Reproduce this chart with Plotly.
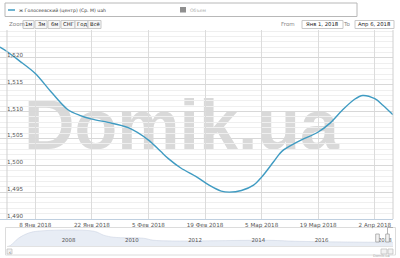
import plotly.graph_objects as go

# ---- data ----
dates = ["2017-12-30 06:00", "2018-01-01", "2018-01-04", "2018-01-08", "2018-01-12", "2018-01-16",
         "2018-01-19", "2018-01-22", "2018-01-26", "2018-01-31", "2018-02-05", "2018-02-08",
         "2018-02-10", "2018-02-13", "2018-02-17", "2018-02-20", "2018-02-23",
         "2018-02-25", "2018-02-28", "2018-03-03", "2018-03-05", "2018-03-08",
         "2018-03-10", "2018-03-14", "2018-03-19", "2018-03-22", "2018-03-25",
         "2018-03-28", "2018-03-30", "2018-04-02", "2018-04-04", "2018-04-06 12:00"]
prices = [1522.0, 1521.2, 1519.5, 1517.1, 1513.6, 1510.4,
          1509.3, 1508.6, 1508.0, 1507.0, 1504.7, 1502.6,
          1501.2, 1499.5, 1497.8, 1496.3, 1495.2,
          1495.0, 1495.3, 1496.3, 1497.8, 1500.7,
          1502.6, 1504.4, 1506.2, 1507.9, 1510.3,
          1512.3, 1513.0, 1512.4, 1511.2, 1509.4]

nav_dates = ["2006-01-20", "2006-03-01", "2006-06-01", "2006-09-25", "2007-01-20", "2008-10-20",
             "2009-02-10", "2009-06-05", "2010-05-20", "2010-09-15", "2014-05-01",
             "2015-04-20", "2018-04-06"]
nav_values = [0, 120, 960, 1560, 1800, 1780, 1320, 1080, 960, 720, 720, 600, 480]

x_tick_vals = ["2018-01-08", "2018-01-22", "2018-02-05", "2018-02-19", "2018-03-05",
               "2018-03-19", "2018-04-02"]
x_tick_text = ["8 Янв 2018", "22 Янв 2018", "5 Фев 2018", "19 Фев 2018", "5 Мар 2018",
               "19 Мар 2018", "2 Апр 2018"]
y_tick_vals = [1490, 1495, 1500, 1505, 1510, 1515, 1520]
y_tick_text = ["1,490", "1,495", "1,500", "1,505", "1,510", "1,515", "1,520"]
nav_tick_vals = ["2008-01-01", "2010-01-01", "2012-01-01", "2014-01-01", "2016-01-01", "2018-01-01"]
nav_tick_text = ["2008", "2010", "2012", "2014", "2016", "2018"]

series_name = "ж Голосеевский (центр) (Ср. М) uah"
volume_name = "Объем"
zoom_buttons = ["1м", "3м", "6м", "СНГ", "Год", "Всё"]
from_text = "Янв 1, 2018"
to_text = "Апр 6, 2018"

# ---- layout helpers (pixel -> paper) ----
W, H = 400, 258
ML, MR, MT, MB = 0, 7, 30, 3
PW = W - ML - MR
PH = H - MT - MB


def px(x):
    return (x - ML) / PW


def py(y):
    return (H - MB - y) / PH


FONT = "DejaVu Sans"
LINE = "#3f9bc2"

fig = go.Figure()
fig.add_trace(go.Scatter(
    x=dates, y=prices, mode="lines",
    line=dict(color=LINE, width=1.4, shape="spline", smoothing=0.9),
    hoverinfo="skip", showlegend=False, xaxis="x", yaxis="y"))

fig.add_trace(go.Scatter(
    x=nav_dates, y=nav_values, mode="lines", fill="tozeroy",
    fillcolor="rgba(205,215,232,0.45)",
    line=dict(color="rgba(190,200,220,0.7)", width=0.6, shape="spline"),
    hoverinfo="skip", showlegend=False, xaxis="x2", yaxis="y2"))

shapes = []
annotations = []

# watermark
shapes.append(dict(type="rect", xref="paper", yref="paper",
                   x0=px(0), x1=px(363), y0=py(155), y1=py(80),
                   line=dict(width=0), fillcolor="rgba(0,0,0,0)", layer="below",
                   label=dict(text="<b>Domik.ua</b>",
                              font=dict(family="Liberation Sans", size=70, color="#d9d9d9"),
                              textposition="middle center")))

# left line at Jan 1 and right border
shapes.append(dict(type="line", xref="x", yref="paper", x0="2018-01-01", x1="2018-01-01",
                   y0=py(219), y1=1, line=dict(color="#d0d0d0", width=1)))
shapes.append(dict(type="line", xref="paper", yref="paper", x0=1, x1=1,
                   y0=py(219), y1=1, line=dict(color="#d0d0d0", width=1)))

# legend box
shapes.append(dict(type="rect", xref="paper", yref="paper", x0=px(5), x1=px(357),
                   y0=py(16.5), y1=py(3), line=dict(color="#b8b8b8", width=1),
                   fillcolor="white"))
shapes.append(dict(type="line", xref="paper", yref="paper", x0=px(8), x1=px(15),
                   y0=py(10), y1=py(10), line=dict(color=LINE, width=1.5)))
shapes.append(dict(type="rect", xref="paper", yref="paper", x0=px(180), x1=px(186),
                   y0=py(12.5), y1=py(7), line=dict(width=0), fillcolor="#8f8f8f"))
annotations.append(dict(text=series_name, xref="paper", yref="paper", x=px(17), y=py(10),
                        xanchor="left", yanchor="middle", showarrow=False,
                        font=dict(family=FONT, size=4.6, color="#333")))
annotations.append(dict(text=volume_name, xref="paper", yref="paper", x=px(188), y=py(10),
                        xanchor="left", yanchor="middle", showarrow=False,
                        font=dict(family=FONT, size=4.6, color="#aaa")))

# zoom row
annotations.append(dict(text="Zoom", xref="paper", yref="paper", x=px(7), y=py(24.5),
                        xanchor="left", yanchor="middle", showarrow=False,
                        font=dict(family=FONT, size=5.5, color="#888")))
btn_edges = [(23, 34), (35, 47), (48, 60), (61, 75), (75, 88), (88, 101)]
for (a, b), t in zip(btn_edges, zoom_buttons):
    shapes.append(dict(type="rect", xref="paper", yref="paper", x0=px(a), x1=px(b),
                       y0=py(28.5), y1=py(20.5), line=dict(color="#c8c8c8", width=1),
                       fillcolor="#f7f7f7"))
    annotations.append(dict(text=t, xref="paper", yref="paper", x=px((a + b) / 2), y=py(24.5),
                            xanchor="center", yanchor="middle", showarrow=False,
                            font=dict(family=FONT, size=5.3, color="#222")))
annotations.append(dict(text="From", xref="paper", yref="paper", x=px(297), y=py(24.5),
                        xanchor="right", yanchor="middle", showarrow=False,
                        font=dict(family=FONT, size=5.5, color="#888")))
annotations.append(dict(text="To", xref="paper", yref="paper", x=px(352), y=py(24.5),
                        xanchor="right", yanchor="middle", showarrow=False,
                        font=dict(family=FONT, size=5.5, color="#888")))
for (a, b), t in [((302, 343), from_text), ((355, 394), to_text)]:
    shapes.append(dict(type="rect", xref="paper", yref="paper", x0=px(a), x1=px(b),
                       y0=py(28.5), y1=py(20.5), line=dict(color="#c8c8c8", width=1),
                       fillcolor="white"))
    annotations.append(dict(text=t, xref="paper", yref="paper", x=px((a + b) / 2), y=py(24.5),
                            xanchor="center", yanchor="middle", showarrow=False,
                            font=dict(family=FONT, size=5.3, color="#222")))

# navigator frame, scrollbar, handles
shapes.append(dict(type="rect", xref="paper", yref="paper", x0=px(5.5), x1=px(395.5),
                   y0=py(255), y1=py(227.5), line=dict(color="#dcdcdc", width=1),
                   layer="below"))
shapes.append(dict(type="line", xref="paper", yref="paper", x0=px(7), x1=px(393),
                   y0=py(246.5), y1=py(246.5), line=dict(color="#e2e2e2", width=1)))
shapes.append(dict(type="rect", xref="paper", yref="paper", x0=px(7), x1=px(12),
                   y0=py(254), y1=py(249), line=dict(color="#bbbbbb", width=0.7),
                   fillcolor="#f2f2f2"))
annotations.append(dict(text="‹", xref="paper", yref="paper", x=px(9.5), y=py(251.5),
                        xanchor="center", yanchor="middle", showarrow=False,
                        font=dict(family=FONT, size=5, color="#555")))
for a, b in [(381, 387), (388, 393)]:
    shapes.append(dict(type="rect", xref="paper", yref="paper", x0=px(a), x1=px(b),
                       y0=py(254), y1=py(249), line=dict(color="#bbbbbb", width=0.7),
                       fillcolor="#f2f2f2"))
for hx in [377.5, 387.5]:
    shapes.append(dict(type="rect", xref="paper", yref="paper", x0=px(hx - 1.8), x1=px(hx + 1.8),
                       y0=py(242), y1=py(234), line=dict(color="#999", width=0.7),
                       fillcolor="#f2f2f2"))
shapes.append(dict(type="line", xref="paper", yref="paper", x0=px(387.5), x1=px(387.5),
                   y0=py(234), y1=py(227.5), line=dict(color="#999", width=0.7)))
shapes.append(dict(type="line", xref="paper", yref="paper", x0=px(387.5), x1=px(393),
                   y0=py(227.5), y1=py(227.5), line=dict(color="#999", width=0.7)))
annotations.append(dict(text="Domik.ua", xref="paper", yref="paper", x=px(392), y=py(256),
                        xanchor="right", yanchor="middle", showarrow=False,
                        font=dict(family=FONT, size=3.5, color="#aaa")))

fig.update_layout(
    width=W, height=H,
    margin=dict(l=ML, r=MR, t=MT, b=MB, pad=0),
    paper_bgcolor="white", plot_bgcolor="rgba(0,0,0,0)",
    showlegend=False,
    shapes=shapes, annotations=annotations,
    xaxis=dict(domain=[0, 1], anchor="y", range=["2017-12-30 06:30", "2018-04-06 12:00"],
               tickvals=x_tick_vals, ticktext=x_tick_text,
               tickfont=dict(family=FONT, size=5.6, color="#555"),
               showgrid=True, gridcolor="#dcdcdc", gridwidth=1,
               showline=True, linecolor="#c0d0e0", linewidth=1,
               ticks="", zeroline=False, fixedrange=True),
    yaxis=dict(domain=[py(219), 1], anchor="x", range=[1490, 1525.2],
               tickvals=y_tick_vals, ticktext=y_tick_text,
               tickfont=dict(family=FONT, size=5.6, color="#555"),
               ticklabelposition="inside", ticklabelstandoff=4, ticklabelshift=-3,
               showgrid=True, gridcolor="#d8d8d8", gridwidth=1,
               minor=dict(dtick=1, tick0=1490, showgrid=True, gridcolor="#efefef", gridwidth=1),
               zeroline=False, showline=False, ticks="", fixedrange=True),
    xaxis2=dict(domain=[px(7), px(393)], anchor="y2", range=["2006-01-20", "2018-04-06"],
                tickvals=nav_tick_vals, ticktext=nav_tick_text,
                ticklabelposition="inside",
                tickfont=dict(family=FONT, size=5.4, color="#555"),
                showgrid=False, zeroline=False, showline=False, ticks="", fixedrange=True),
    yaxis2=dict(domain=[py(246.5), py(229)], anchor="x2", range=[0, 2040],
                showticklabels=False, showgrid=False, zeroline=False, fixedrange=True),
)

fig.write_html("out.html")
